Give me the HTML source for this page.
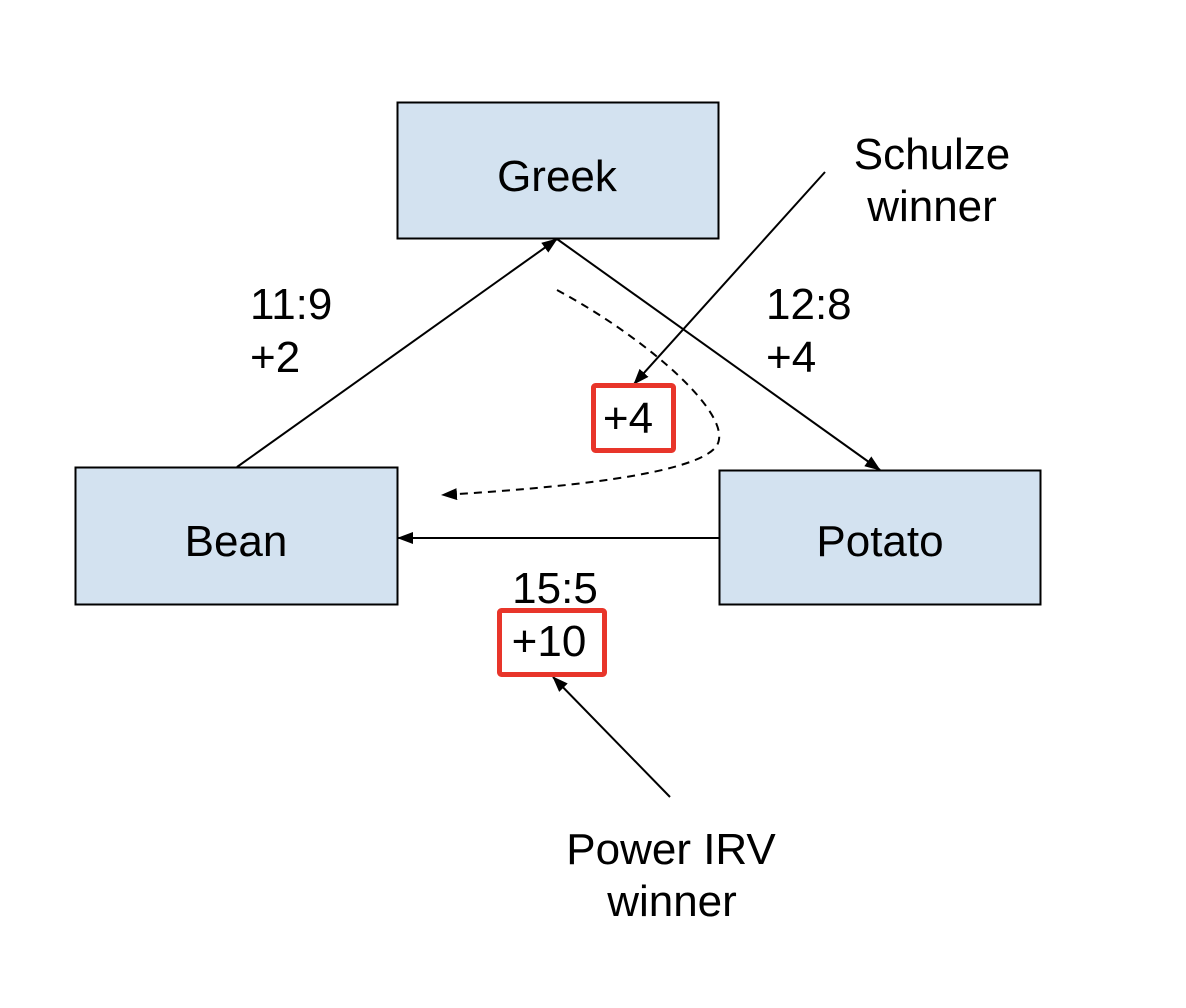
<!DOCTYPE html>
<html><head><style>html,body{margin:0;padding:0;background:#fff}svg{display:block}text{font-family:"Liberation Sans",Arial,sans-serif;font-size:44px;fill:#000}</style></head>
<body>
<svg width="1186" height="1008" viewBox="0 0 1186 1008" xmlns="http://www.w3.org/2000/svg">
<defs>
<marker id="b" markerWidth="16" markerHeight="12" refX="15" refY="6" orient="auto" markerUnits="userSpaceOnUse" viewBox="0 0 16 12"><path d="M0,0L16,6L0,12z" fill="#000"/></marker></defs>
<rect x="397.5" y="102.5" width="321" height="136" fill="#d3e2f0" stroke="#000" stroke-width="2"/>
<rect x="75.5" y="467.5" width="322" height="137" fill="#d3e2f0" stroke="#000" stroke-width="2"/>
<rect x="719.5" y="470.5" width="321" height="134" fill="#d3e2f0" stroke="#000" stroke-width="2"/>
<text x="557" y="191" text-anchor="middle">Greek</text>
<text x="236" y="556" text-anchor="middle">Bean</text>
<text x="880" y="556" text-anchor="middle">Potato</text>
<line x1="237" y1="467" x2="557" y2="239" stroke="#000" stroke-width="2" marker-end="url(#b)"/>
<line x1="557" y1="239" x2="880" y2="470" stroke="#000" stroke-width="2" marker-end="url(#b)"/>
<line x1="719" y1="538" x2="398" y2="538" stroke="#000" stroke-width="2" marker-end="url(#b)"/>
<line x1="825" y1="172" x2="634" y2="384" stroke="#000" stroke-width="2" marker-end="url(#b)"/>
<line x1="670" y1="797" x2="553" y2="677" stroke="#000" stroke-width="2" marker-end="url(#b)"/>
<path d="M557,290 C650,340 740,420 715,448 C690,475 560,488 442,495" fill="none" stroke="#000" stroke-width="2" stroke-dasharray="8,6" marker-end="url(#b)"/>
<rect x="593.5" y="385.5" width="80" height="65" rx="2" fill="#fff" stroke="#e8352a" stroke-width="5"/>
<rect x="499.5" y="610.5" width="105" height="64" rx="2" fill="#fff" stroke="#e8352a" stroke-width="5"/>
<text x="628" y="433" text-anchor="middle">+4</text>
<text x="549" y="656" text-anchor="middle">+10</text>
<text x="555" y="603" text-anchor="middle">15:5</text>
<text x="250" y="319">11:9</text>
<text x="250" y="372">+2</text>
<text x="766" y="319">12:8</text>
<text x="766" y="372">+4</text>
<text x="932" y="169" text-anchor="middle">Schulze</text>
<text x="932" y="221" text-anchor="middle">winner</text>
<text x="671" y="864" text-anchor="middle">Power IRV</text>
<text x="672" y="916" text-anchor="middle">winner</text>
</svg>
</body></html>
